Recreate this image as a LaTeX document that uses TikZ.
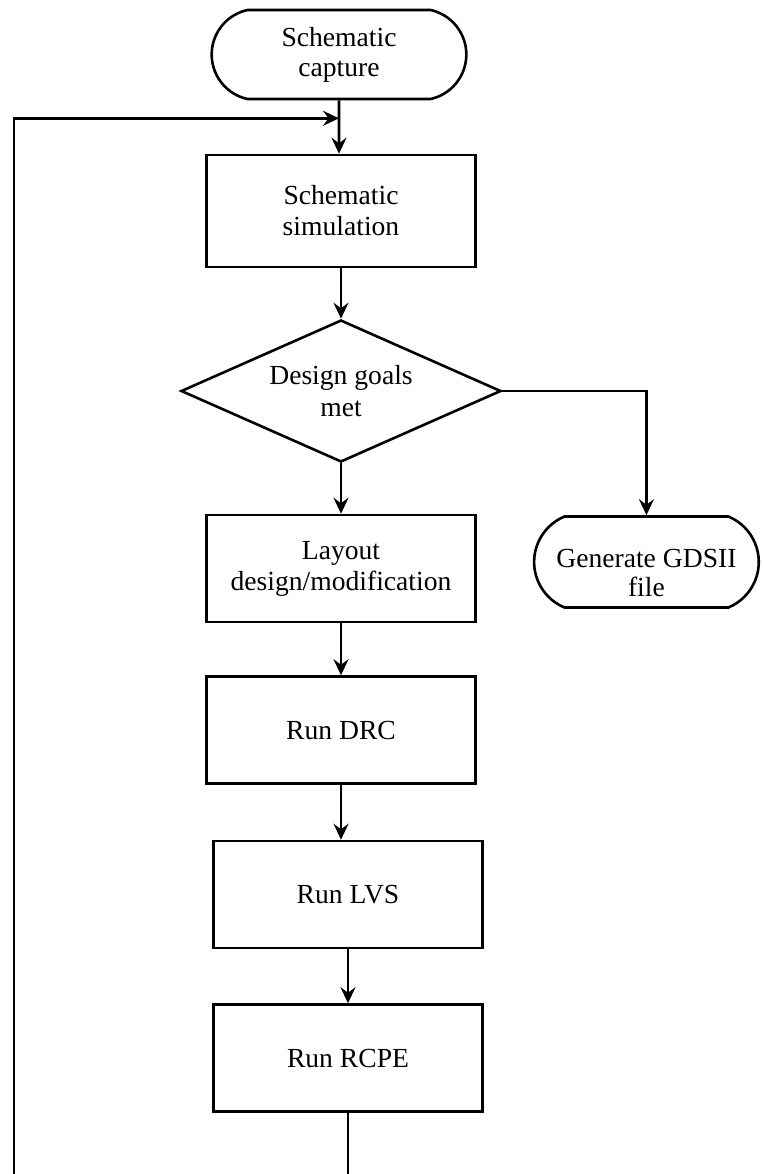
\documentclass[tikz,border=0pt]{standalone}
\usepackage{fontspec}
\setmainfont{Liberation Serif}
\usetikzlibrary{arrows.meta,shapes.geometric,shapes.misc,positioning}

\begin{document}
\begin{tikzpicture}
[-,>={Stealth[length=8pt,width=7.5pt,inset=2.8pt]},auto,node distance=80pt,
                    line width=1.3pt,
                    box node/.style={rectangle,draw,minimum width=134.5pt,minimum height=53.5pt,align=center,font=\fontsize{13.8pt}{15.5pt}\selectfont},
                    end node/.style={rounded rectangle,draw,minimum height=44.5pt,align=center,font=\fontsize{13.8pt}{15pt}\selectfont},
                    test node/.style={diamond,draw,aspect=2.25,inner sep=0pt,minimum width=160pt,minimum height=71pt,align=center,font=\fontsize{13.8pt}{16pt}\selectfont}]

  \useasboundingbox (0,0) rectangle (381.5pt,-587pt);

  \node[end node,minimum width=134pt,rounded rectangle arc length=155] (capture) at (169.5pt,-27.25pt) {Schematic\\capture};
  \node[box node,minimum height=56pt] (sim) [below of=capture,node distance=78.25pt,xshift=1pt] {Schematic\\simulation};
  \node[test node] (goals) [below of=sim,node distance=90pt] {Design goals\\met};
  \node[box node] (layout) [below of=goals,node distance=88.75pt] {Layout\\design/modification};
  \node[box node] (drc) [below of=layout,node distance=80.75pt] {Run DRC};
  \node[box node] (lvs) [below of=drc,node distance=82.25pt,xshift=3.5pt] {Run LVS};
  \node[box node] (rcpe) [below of=lvs,node distance=81.75pt] {Run RCPE};
  \node[end node,minimum width=119pt,minimum height=45.5pt,rounded rectangle arc length=135,
        label={[align=center,yshift=-5.5pt,font=\fontsize{13.8pt}{14.5pt}\selectfont]center:Generate GDSII\\file}]
        (gdsii) [right=28pt of layout,yshift=3.25pt] {};

  \coordinate (join) at ([yshift=-9pt]capture.south);
  \coordinate (bottom) at (7pt,-590pt);

  \path[->]
    (capture) edge (capture |- sim.north)
    (sim) edge (goals)
    (goals) edge (layout)
    (layout) edge (drc)
    (drc.south) edge (drc.south |- lvs.north)
    (lvs) edge (rcpe);
  \draw[->] (goals.east) -| (gdsii.north);
  \draw (rcpe) -- (rcpe.south |- bottom);
  \draw[->] (bottom) |- (join);
\end{tikzpicture}
\end{document}
